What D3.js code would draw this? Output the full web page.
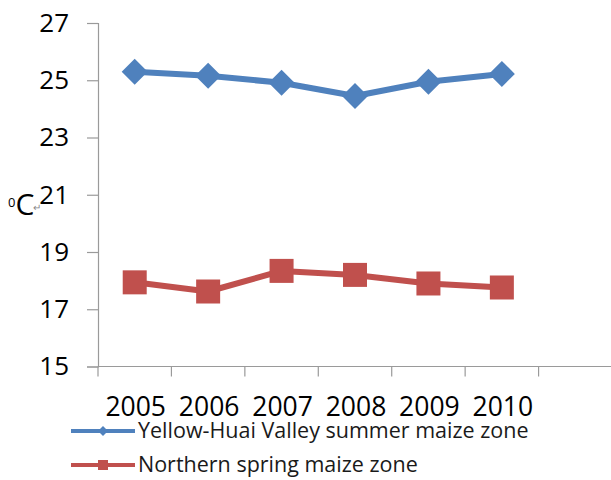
<!doctype html>
<html>
<head>
<meta charset="utf-8">
<title>maize zone temperature</title>
<script src="https://d3js.org/d3.v7.min.js"></script>
<style>
  body { margin: 0; background: #fff; }
  svg { display: block; font-family: "Open Sans", sans-serif; }
</style>
</head>
<body>
<div id="chart"></div>
<script>
// data
var years = ["2005", "2006", "2007", "2008", "2009", "2010"];
var yellowHuai = [25.30, 25.16, 24.91, 24.45, 24.95, 25.22];
var northernSpring = [17.94, 17.62, 18.34, 18.20, 17.90, 17.76];
var yTicks = [15, 17, 19, 21, 23, 25, 27];
var seriesNames = ["Yellow-Huai Valley summer maize zone", "Northern spring maize zone"];

var width = 611, height = 480;
var padding = {left: 98, top: 23, bottom: 366.5};
var blue = "#4F81BD", red = "#C0504D", axisColor = "#9a9a9a";

var svg = d3.select("#chart").append("svg")
  .attr("width", width)
  .attr("height", height);

// x has one empty slot after 2010, like the original
var slots = years.concat([""]);
var x = d3.scaleBand().domain(slots).range([padding.left, 612]);
var y = d3.scaleLinear().domain([15, 27]).range([padding.bottom, padding.top]);

// y axis
var yAxis = svg.append("g")
  .attr("transform", "translate(" + padding.left + ",0)")
  .call(d3.axisLeft(y).tickValues(yTicks).tickSize(11).tickPadding(18).tickFormat(d3.format("d")));
yAxis.select(".domain").attr("stroke", axisColor).attr("stroke-width", 1.2);
yAxis.selectAll(".tick line").attr("stroke", axisColor).attr("stroke-width", 1.2);
yAxis.selectAll(".tick text").attr("font-size", 26).attr("fill", "#000").attr("font-family", "Open Sans");

// x axis: line + ticks at band edges
var xg = svg.append("g");
xg.append("line")
  .attr("x1", padding.left).attr("x2", width)
  .attr("y1", y(15)).attr("y2", y(15))
  .attr("stroke", axisColor).attr("stroke-width", 1.2);
xg.selectAll("line.tk").data(slots).enter().append("line")
  .attr("class", "tk")
  .attr("x1", function(d){ return x(d); })
  .attr("x2", function(d){ return x(d); })
  .attr("y1", y(15)).attr("y2", y(15) + 10)
  .attr("stroke", axisColor).attr("stroke-width", 1.2);
xg.selectAll("text").data(years).enter().append("text")
  .attr("x", function(d){ return x(d) + x.bandwidth() / 2 + 1; })
  .attr("y", 416)
  .attr("text-anchor", "middle")
  .attr("font-size", 26.5)
  .text(function(d){ return d; });

// unit label
var unit = svg.append("text").attr("x", 8).attr("y", 215).attr("fill", "#000");
unit.append("tspan").attr("font-size", 13).attr("dy", -8).text("0");
unit.append("tspan").attr("font-size", 30).attr("dy", 8).text("C");
svg.append("text").attr("x", 33).attr("y", 211).attr("font-size", 10).attr("fill", "#888").text("↵");

var line = d3.line()
  .x(function(d, i){ return x(years[i]) + x.bandwidth() / 2; })
  .y(function(d){ return y(d); });

// Yellow-Huai series
svg.append("path").datum(yellowHuai)
  .attr("d", line).attr("fill", "none")
  .attr("stroke", blue).attr("stroke-width", 6).attr("stroke-linejoin", "round");
svg.selectAll("path.dia").data(yellowHuai).enter().append("path")
  .attr("class", "dia")
  .attr("transform", function(d, i){ return "translate(" + (x(years[i]) + x.bandwidth() / 2) + "," + y(d) + ")"; })
  .attr("d", "M0,-13L13,0L0,13L-13,0Z")
  .attr("fill", blue);

// Northern spring series
svg.append("path").datum(northernSpring)
  .attr("d", line).attr("fill", "none")
  .attr("stroke", red).attr("stroke-width", 6).attr("stroke-linejoin", "round");
svg.selectAll("rect.sq").data(northernSpring).enter().append("rect")
  .attr("class", "sq")
  .attr("x", function(d, i){ return x(years[i]) + x.bandwidth() / 2 - 12; })
  .attr("y", function(d){ return y(d) - 12; })
  .attr("width", 24).attr("height", 24)
  .attr("fill", red);

// legend
var legend = svg.selectAll("g.leg").data(seriesNames).enter().append("g")
  .attr("class", "leg")
  .attr("transform", function(d, i){ return "translate(71," + (431 + i * 34) + ")"; });
legend.append("line")
  .attr("x1", 0).attr("x2", 64).attr("y1", 0).attr("y2", 0)
  .attr("stroke", function(d, i){ return i === 0 ? blue : red; })
  .attr("stroke-width", 4);
legend.filter(function(d, i){ return i === 0; }).append("path")
  .attr("transform", "translate(32,0)")
  .attr("d", "M0,-5L5,0L0,5L-5,0Z").attr("fill", blue);
legend.filter(function(d, i){ return i === 1; }).append("rect")
  .attr("x", 27).attr("y", -5).attr("width", 10).attr("height", 10).attr("fill", red);
legend.append("text")
  .attr("x", 67).attr("y", 7)
  .attr("font-size", 21.5)
  .attr("fill", "#1a1a1a")
  .text(function(d){ return d; });
</script>
</body>
</html>
